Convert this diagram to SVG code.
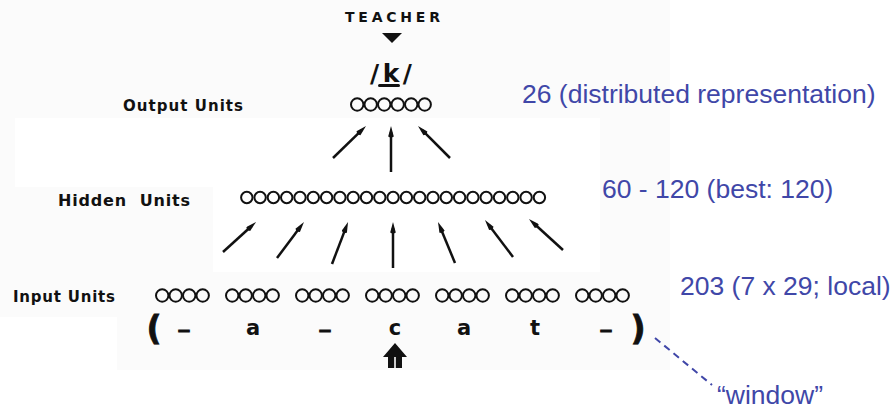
<svg xmlns="http://www.w3.org/2000/svg" width="896" height="412" viewBox="0 0 896 412">
  <style>
    .scan { font-family: "DejaVu Sans", "Liberation Sans", Arial, sans-serif; font-weight: bold; fill: #111; }
    .note { font-family: "Liberation Sans", Arial, sans-serif; font-size: 26.5px; fill: #4047A8; }
    .unit { fill: none; stroke: #111; stroke-width: 2; }
    .conn { stroke: #111; stroke-width: 2.5; fill: none; marker-end: url(#head); }
    .thick { stroke: #111; stroke-width: 0.8; }
  </style>
  <defs>
    <marker id="head" viewBox="0 0 12 6" refX="6" refY="3" markerWidth="12" markerHeight="6" markerUnits="userSpaceOnUse" orient="auto">
      <path d="M0,3 L1.5,0.2 L12,3 L1.5,5.8 Z" fill="#111"/>
    </marker>
    <circle id="u" r="6.2" class="unit"/>
    <circle id="h" r="5.7" class="unit"/>
    <g id="quad">
      <use href="#u" x="0"/>
      <use href="#u" x="13.5"/>
      <use href="#u" x="27"/>
      <use href="#u" x="40.5"/>
    </g>
  </defs>

  <!-- page background -->
  <rect x="0" y="0" width="896" height="412" fill="#ffffff"/>
  <rect x="0" y="0" width="670" height="370" fill="#fbfbfb"/>
  <rect x="15" y="118" width="585" height="69" fill="#ffffff"/>
  <rect x="213" y="187" width="387" height="85" fill="#ffffff"/>
  <rect x="0" y="317" width="117" height="53" fill="#ffffff"/>

  <!-- teacher signal -->
  <g id="teacher">
    <text class="scan" x="345" y="22" font-size="14" textLength="95" lengthAdjust="spacing">TEACHER</text>
    <polygon points="382,33 402,33 392,43" fill="#111"/>
  </g>

  <!-- target phoneme -->
  <g id="target">
    <text class="scan" x="370" y="82" font-size="25" textLength="42" lengthAdjust="spacing">/k/</text>
    <rect x="378" y="84" width="22" height="3" rx="1.5" fill="#111"/>
  </g>

  <!-- output layer -->
  <g id="output-units">
    <text class="scan" x="123" y="111" font-size="15" textLength="120" lengthAdjust="spacing">Output Units</text>
    <use href="#u" x="357.2" y="104.5"/>
    <use href="#u" x="370.7" y="104.5"/>
    <use href="#u" x="384.2" y="104.5"/>
    <use href="#u" x="397.7" y="104.5"/>
    <use href="#u" x="411.2" y="104.5"/>
    <use href="#u" x="424.7" y="104.5"/>
  </g>

  <!-- hidden layer -->
  <g id="hidden-units">
    <text class="scan" x="58" y="206" font-size="16" textLength="132" lengthAdjust="spacing" xml:space="preserve">Hidden  Units</text>
    <g transform="translate(246.8,197.5)">
      <use href="#h" x="0"/><use href="#h" x="13.3"/><use href="#h" x="26.6"/><use href="#h" x="39.9"/>
      <use href="#h" x="53.2"/><use href="#h" x="66.5"/><use href="#h" x="79.8"/><use href="#h" x="93.1"/>
      <use href="#h" x="106.4"/><use href="#h" x="119.7"/><use href="#h" x="133"/><use href="#h" x="146.3"/>
      <use href="#h" x="159.6"/><use href="#h" x="172.9"/><use href="#h" x="186.2"/><use href="#h" x="199.5"/>
      <use href="#h" x="212.8"/><use href="#h" x="226.1"/><use href="#h" x="239.4"/><use href="#h" x="252.7"/>
      <use href="#h" x="266"/><use href="#h" x="279.3"/><use href="#h" x="292.6"/>
    </g>
  </g>

  <!-- input layer: seven groups of units -->
  <g id="input-units">
    <text class="scan" x="13" y="302" font-size="15" textLength="102" lengthAdjust="spacing">Input Units</text>
    <use href="#quad" x="162.2" y="295.5"/>
    <use href="#quad" x="232.2" y="295.5"/>
    <use href="#quad" x="302.2" y="295.5"/>
    <use href="#quad" x="372.2" y="295.5"/>
    <use href="#quad" x="442.2" y="295.5"/>
    <use href="#quad" x="512.2" y="295.5"/>
    <use href="#quad" x="582.2" y="295.5"/>
  </g>

  <!-- input text window -->
  <g id="input-window">
    <text class="scan thick" x="154" y="340" font-size="33" text-anchor="middle">(</text>
    <text class="scan thick" x="184" y="327" font-size="22" text-anchor="middle">_</text>
    <text class="scan" x="253" y="335" font-size="21" text-anchor="middle">a</text>
    <text class="scan thick" x="325" y="327" font-size="22" text-anchor="middle">_</text>
    <text class="scan" x="395" y="335" font-size="21" text-anchor="middle">c</text>
    <text class="scan" x="464" y="335" font-size="21" text-anchor="middle">a</text>
    <text class="scan" x="535" y="335" font-size="21" text-anchor="middle">t</text>
    <text class="scan thick" x="606" y="327" font-size="22" text-anchor="middle">_</text>
    <text class="scan thick" x="638" y="340" font-size="33" text-anchor="middle">)</text>
    <!-- current-letter pointer -->
    <path d="M383,357 L395,343 L407,357 L402,357 L402,368 L395.8,368 L395.8,357 L394.2,357 L394.2,368 L388,368 L388,357 Z" fill="#111"/>
  </g>

  <!-- connections between layers -->
  <g id="connectors">
    <path class="conn" d="M333,158 L361.7,130.2"/>
    <path class="conn" d="M391,172 L391,132"/>
    <path class="conn" d="M450,158 L422.2,130.2"/>
    <path class="conn" d="M223,252 L251.6,226"/>
    <path class="conn" d="M277,258 L300.4,226.8"/>
    <path class="conn" d="M332,264 L345.9,227.6"/>
    <path class="conn" d="M393,268 L393,228"/>
    <path class="conn" d="M455,263 L440.3,227.5"/>
    <path class="conn" d="M513,257 L488.6,224.8"/>
    <path class="conn" d="M563,250 L533.4,223"/>
    <path d="M655,338 L712,385" stroke="#4047A8" stroke-width="2" stroke-dasharray="7 5" fill="none"/>
  </g>

  <!-- layer sizes -->
  <g id="notes">
    <text class="note" x="522" y="103">26 (distributed representation)</text>
    <text class="note" x="602" y="198">60 - 120 (best: 120)</text>
    <text class="note" x="680" y="295">203 (7 x 29; local)</text>
    <text class="note" x="717" y="404">“window”</text>
  </g>
</svg>
